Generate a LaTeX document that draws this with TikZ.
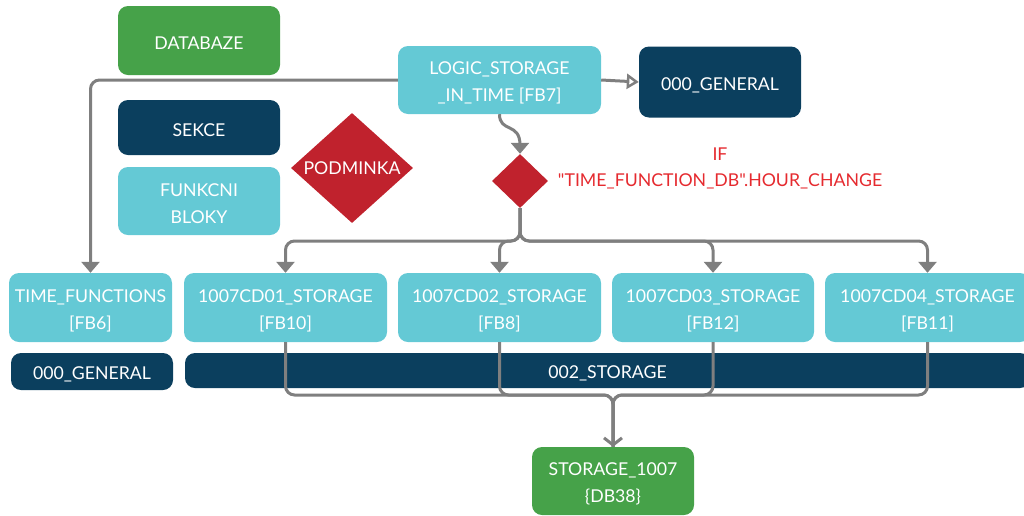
\documentclass[tikz,border=0pt]{standalone}
\usepackage{fontspec}
\setmainfont{Lato}[Ligatures=TeXOff]
\usetikzlibrary{shapes.geometric,arrows.meta}
\definecolor{dbgreen}{HTML}{46A249}
\definecolor{secblue}{HTML}{0B3F5E}
\definecolor{fbcyan}{HTML}{64C9D5}
\definecolor{condred}{HTML}{C0222D}
\definecolor{txtred}{HTML}{E52A2F}
\definecolor{linegray}{HTML}{7F7F7F}
\tikzset{
  boxlabel/.style={inner sep=0pt, text=white, align=center, yshift=-3pt,
    font=\fontsize{17.7}{27}\selectfont},
  box/.style={rounded corners=10pt, inner sep=0pt, label={[boxlabel]center:{#1}}},
  greenbox/.style={box={#1}, fill=dbgreen},
  bluebox/.style={box={#1}, fill=secblue},
  cyanbox/.style={box={#1}, fill=fbcyan},
  cond/.style={diamond, fill=condred, inner sep=0pt, text=white,
    font=\fontsize{17.7}{27}\selectfont},
  conn/.style={draw=linegray, line width=3pt, rounded corners=9pt},
  tipfill/.style={-{Triangle[length=11pt,width=18pt]}},
  tipopen/.style={-{Triangle[open,length=12pt,width=15pt,line width=2.5pt]}},
  tipv/.style={-{Straight Barb[length=7pt,width=18pt,line width=3pt]}},
}
\begin{document}
\begin{tikzpicture}[x=1pt,y=-1pt]
\useasboundingbox (0,0) rectangle (1024,515);
% legend
\node[greenbox={DATABAZE}, minimum width=162pt, minimum height=69pt] (leg_db) at (199,40.5) {};
\node[bluebox={SEKCE}, minimum width=162pt, minimum height=55pt] (leg_sec) at (199,127.5) {};
\node[cyanbox={FUNKCNI\\BLOKY}, minimum width=162pt, minimum height=68pt] (leg_fb) at (199,201) {};
\node[cond, minimum width=122pt, minimum height=110pt] (leg_cond) at (352,168) {\raisebox{-2pt}{PODMINKA}};
% main
\node[cyanbox={LOGIC\_STORAGE\\\_IN\_TIME [FB7]}, minimum width=203pt, minimum height=68pt] (logic) at (499.5,80) {};
\node[bluebox={000\_GENERAL}, minimum width=162pt, minimum height=71pt] (gen1) at (720,82) {};
\node[cond, minimum width=56pt, minimum height=54pt] (dia) at (520,181) {};
\node[text=txtred, align=center, font=\fontsize{17.7}{26}\selectfont] (iftxt) at (720,168) {IF\\"TIME\_FUNCTION\_DB".HOUR\_CHANGE};
% sections
\node[bluebox={000\_GENERAL}, minimum width=162pt, minimum height=37pt] (gen2) at (92,371.5) {};
\node[bluebox={002\_STORAGE}, minimum width=845pt, minimum height=35pt] (stor) at (607.5,370.5) {};
% function blocks
\node[cyanbox={TIME\_FUNCTIONS\\{[FB6]}}, minimum width=163pt, minimum height=69pt] (timef) at (90.5,307.5) {};
\node[cyanbox={1007CD01\_STORAGE\\{[FB10]}}, minimum width=203pt, minimum height=69pt] (cd1) at (285.5,307.5) {};
\node[cyanbox={1007CD02\_STORAGE\\{[FB8]}}, minimum width=203pt, minimum height=69pt] (cd2) at (499.5,307.5) {};
\node[cyanbox={1007CD03\_STORAGE\\{[FB12]}}, minimum width=202pt, minimum height=69pt] (cd3) at (713,307.5) {};
\node[cyanbox={1007CD04\_STORAGE\\{[FB11]}}, minimum width=205pt, minimum height=69pt] (cd4) at (927.5,307.5) {};
\node[greenbox={STORAGE\_1007\\\{DB38\}}, minimum width=162pt, minimum height=68pt] (st) at (613,481) {};
% connectors
\draw[conn, tipfill] (logic.west) -| (timef.north);
\draw[conn, tipopen] (logic.east) -- (gen1.west);
\draw[conn, rounded corners=0pt, tipfill] (logic.south) .. controls (499.5,133) and (520,122) .. (520,145) -- (dia.north);
\draw[conn, tipfill] (dia.south) |- (285.5,241) -- (cd1.north);
\draw[conn, tipfill] (dia.south) |- (499.5,241) -- (cd2.north);
\draw[conn, tipfill] (dia.south) |- (713,241) -- (cd3.north);
\draw[conn, tipfill] (dia.south) |- (927.5,241) -- (cd4.north);
\draw[conn] (cd1.south) |- (613,395) -- (st.north);
\draw[conn] (cd2.south) |- (613,395) -- (st.north);
\draw[conn] (cd3.south) |- (613,395) -- (st.north);
\draw[conn, tipv] (cd4.south) |- (613,395) -- (st.north);
\end{tikzpicture}
\end{document}
